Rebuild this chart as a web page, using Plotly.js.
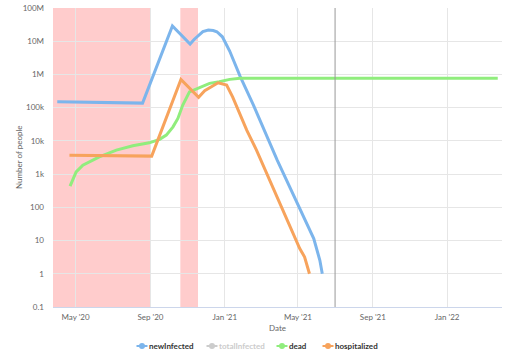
<!DOCTYPE html>
<html>
<head>
<meta charset="utf-8">
<script src="https://cdn.plot.ly/plotly-3.0.1.min.js"></script>
<style>html,body{margin:0;padding:0;background:#fff;}#chart{width:512px;height:355px;}</style>
</head>
<body>
<div id="chart"></div>
<script>
// ---- data ----
const seriesNames = ['newInfected', 'totalInfected', 'dead', 'hospitalized'];
const seriesColors = ['#7cb5ec', '#434348', '#90ed7d', '#f7a35c'];
const seriesHidden = [false, true, false, false];

const newInfectedDates = ['2020-04-01','2020-08-19','2020-10-07','2020-11-05','2020-11-12','2020-11-19','2020-11-26','2020-12-05','2020-12-13','2020-12-19','2020-12-28','2021-01-09','2021-01-26','2021-02-17','2021-03-28','2021-05-27','2021-06-06','2021-06-10'];
const newInfected = [150000,137000,29000000,8200000,11500000,15500000,19500000,21700000,21000000,19300000,13600000,5060000,893000,119000,2630,11.5,2.55,1];

const totalInfectedDates = [];
const totalInfected = [];

const deadDates = ['2020-04-22','2020-05-02','2020-05-13','2020-06-09','2020-07-07','2020-08-03','2020-08-30','2020-09-16','2020-09-27','2020-10-08','2020-10-16','2020-10-24','2020-11-04','2020-11-18','2020-12-07','2020-12-23','2021-01-09','2021-01-26','2022-03-25'];
const dead = [434,1170,1860,3310,5270,7100,8750,11100,14900,26500,47500,120000,300000,381000,539000,602000,711000,762000,762000];

const hospitalizedDates = ['2020-04-21','2020-09-03','2020-10-21','2020-11-19','2020-11-29','2020-12-08','2020-12-21','2021-01-04','2021-01-14','2021-02-06','2021-02-22','2021-05-04','2021-05-12','2021-05-20'];
const hospitalized = [3720,3480,711000,204000,322000,408000,561000,479000,208000,21100,5270,5.75,3.2,1];

// highlighted periods and marker date
const bandStarts = ['2020-03-25','2020-10-20'];
const bandEnds = ['2020-09-01','2020-11-18'];
const markerDate = '2021-07-01';

const xTickVals = ['2020-05-01','2020-09-01','2021-01-01','2021-05-01','2021-09-01','2022-01-01'];
const xTickText = ["May '20","Sep '20","Jan '21","May '21","Sep '21","Jan '22"];
const yTickVals = [0.1,1,10,100,1000,10000,100000,1000000,10000000,100000000];
const yTickText = ['0.1','1','10','100','1k','10k','100k','1M','10M','100M'];
const xTitle = 'Date';
const yTitle = 'Number of people';

// ---- geometry ----
const W = 512, H = 355;
const M = {l: 53, r: 10, t: 8, b: 48};
const PW = W - M.l - M.r, PH = H - M.t - M.b;
const px2x = p => (p - M.l) / PW;
const py2y = p => (H - M.b - p) / PH;

// ---- traces ----
const xs = [newInfectedDates, totalInfectedDates, deadDates, hospitalizedDates];
const ys = [newInfected, totalInfected, dead, hospitalized];
const traces = [];
for (let i = 0; i < seriesNames.length; i++) {
  traces.push({
    type: 'scatter', mode: 'lines', x: xs[i], y: ys[i],
    line: {color: seriesColors[i], width: 3},
    name: seriesNames[i], showlegend: false,
    visible: seriesHidden[i] ? 'legendonly' : true,
    hoverinfo: 'x+y+name'
  });
}

const shapes = [];
for (let i = 0; i < bandStarts.length; i++) {
  shapes.push({type: 'rect', xref: 'x', yref: 'paper', x0: bandStarts[i], x1: bandEnds[i], y0: 0, y1: 1,
    fillcolor: 'rgba(255,0,0,0.2)', line: {width: 0}, layer: 'below'});
}
shapes.push({type: 'line', xref: 'x', yref: 'paper', x0: markerDate, x1: markerDate, y0: 0, y1: 1,
  line: {color: '#999999', width: 1}, layer: 'above'});

// ---- legend (drawn as shapes + text, Highcharts-like compact layout) ----
const legendSymbolX = [137, 207, 277, 323];
const legendY = 346;
const annotations = [];
for (let i = 0; i < seriesNames.length; i++) {
  const c = seriesHidden[i] ? '#cccccc' : seriesColors[i];
  const cx = px2x(legendSymbolX[i] + 5), cy = py2y(legendY);
  shapes.push({type: 'line', xref: 'paper', yref: 'paper', xsizemode: 'pixel', ysizemode: 'pixel',
    xanchor: cx, yanchor: cy, x0: -5.5, x1: 5.5, y0: 0, y1: 0, line: {color: c, width: 2}});
  shapes.push({type: 'circle', xref: 'paper', yref: 'paper', xsizemode: 'pixel', ysizemode: 'pixel',
    xanchor: cx, yanchor: cy, x0: -3, x1: 3, y0: -3, y1: 3, fillcolor: c, line: {width: 0}});
  annotations.push({xref: 'paper', yref: 'paper', x: px2x(legendSymbolX[i] + 11), y: cy,
    xanchor: 'left', yanchor: 'middle', showarrow: false, text: '<b>' + seriesNames[i] + '</b>',
    font: {size: 8, color: seriesHidden[i] ? '#cccccc' : '#333333'}, borderpad: 0});
}
// y axis title placed precisely
annotations.push({xref: 'paper', yref: 'paper', x: px2x(18.5), y: 0.5, xanchor: 'center', yanchor: 'middle',
  textangle: -90, showarrow: false, text: yTitle, font: {size: 8, color: '#666666'}, borderpad: 0});

const layout = {
  width: W, height: H,
  margin: M,
  paper_bgcolor: '#ffffff', plot_bgcolor: '#ffffff',
  font: {family: 'Lato, sans-serif', size: 8, color: '#666666'},
  xaxis: {
    type: 'date', range: ['2020-03-25', '2022-04-01'],
    tickmode: 'array', tickvals: xTickVals, ticktext: xTickText,
    showgrid: true, gridcolor: '#e6e6e6', gridwidth: 1,
    showline: true, linecolor: '#ccd6eb', linewidth: 1, zeroline: false,
    ticks: '', ticklabelstandoff: 2,
    tickfont: {size: 8, color: '#666666'},
    title: {text: xTitle, font: {size: 8, color: '#666666'}, standoff: 4},
    automargin: false
  },
  yaxis: {
    type: 'log', range: [-1, 8],
    tickmode: 'array', tickvals: yTickVals, ticktext: yTickText,
    showgrid: true, gridcolor: '#e6e6e6', gridwidth: 1,
    showline: false, zeroline: false, ticks: '', ticklabelstandoff: 8,
    tickfont: {size: 8, color: '#666666'},
    automargin: false
  },
  shapes: shapes,
  annotations: annotations,
  showlegend: false
};

Plotly.newPlot('chart', traces, layout, {displayModeBar: false});
</script>
</body>
</html>
